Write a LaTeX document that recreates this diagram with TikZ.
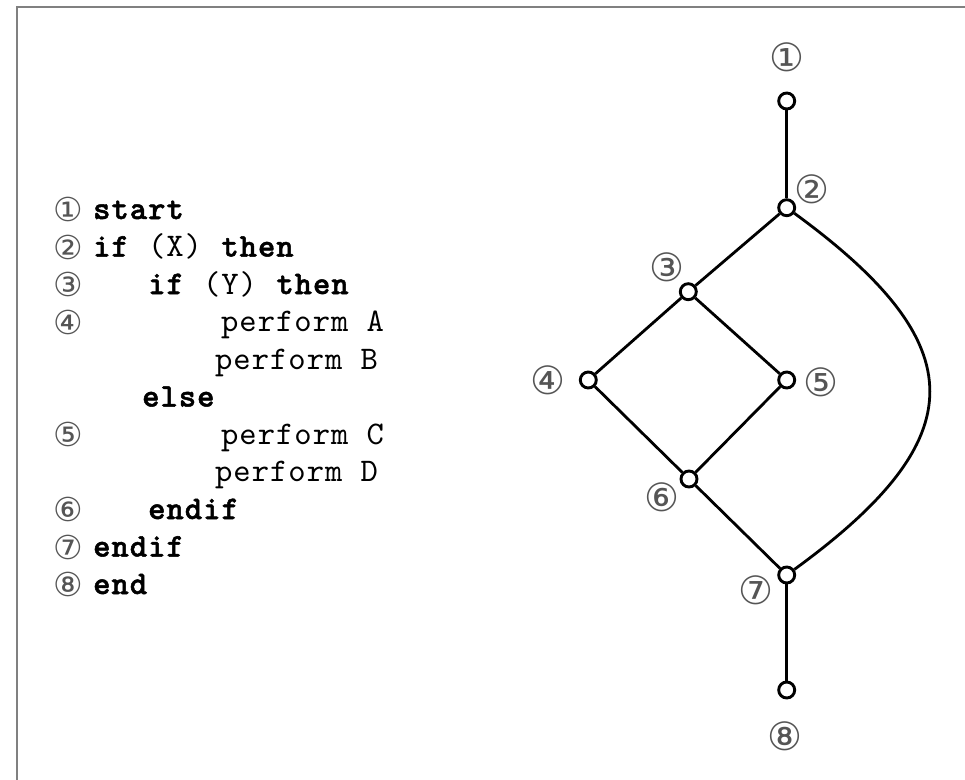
\documentclass[tikz,border=0pt]{standalone}
\usepackage{fontspec}
\newfontfamily\codefont{lmmono10-regular}[Extension=.otf, BoldFont=lmmonolt10-bold, BoldFeatures={FakeBold=1.5}, LetterSpace=3]
\newfontfamily\numfont{DejaVu Sans}
\definecolor{framecol}{RGB}{128,128,128}
\definecolor{numcol}{RGB}{85,85,85}
\tikzset{
  vert/.style={circle, draw=black, line width=2.9pt, minimum size=16pt, inner sep=0pt, fill=white},
  conn/.style={line width=2.8pt, draw=black},
  lbl/.style={font=\numfont\fontsize{39}{39}\selectfont, text=numcol, inner sep=0pt},
  cnum/.style={font=\numfont\fontsize{33}{33}\selectfont, text=numcol, inner sep=0pt},
  codeline/.style={font=\codefont\fontsize{33}{33}\selectfont, anchor=base west, inner sep=0pt}
}
\begin{document}
\begin{tikzpicture}[x=1pt,y=-1pt]
\useasboundingbox (0,0) rectangle (965,779);
% frame
\draw[framecol, line width=2.2pt] (17,782) -- (17,7) -- (968,7);
% code lines
\node[codeline] (c1) at (93,219) {\textbf{start}};
\node[codeline] (c2) at (93,256.5) {\textbf{if} (X) \textbf{then}};
\node[codeline] (c3) at (148,294) {\textbf{if} (Y) \textbf{then}};
\node[codeline] (c4) at (221,331.5) {perform A};
\node[codeline] (c5) at (215,369) {perform B};
\node[codeline] (c6) at (142,406.5) {\textbf{else}};
\node[codeline] (c7) at (221,444) {perform C};
\node[codeline] (c8) at (215,481.5) {perform D};
\node[codeline] (c9) at (148,519) {\textbf{endif}};
\node[codeline] (c10) at (93,556.5) {\textbf{endif}};
\node[codeline] (c11) at (93,594) {\textbf{end}};
% code numbers
\node[cnum] (k1) at (68,209.5) {①};
\node[cnum] (k2) at (68,247) {②};
\node[cnum] (k3) at (68,284.5) {③};
\node[cnum] (k4) at (68,322) {④};
\node[cnum] (k5) at (68,434.5) {⑤};
\node[cnum] (k6) at (68,509.5) {⑥};
\node[cnum] (k7) at (68,547) {⑦};
\node[cnum] (k8) at (68,584.5) {⑧};
% graph vertices
\node[vert] (n1) at (786.7,101) {};
\node[vert] (n2) at (786.7,207.7) {};
\node[vert] (n3) at (688.3,291.7) {};
\node[vert] (n4) at (588.3,380) {};
\node[vert] (n5) at (786.7,380) {};
\node[vert] (n6) at (689,479) {};
\node[vert] (n7) at (786.7,575) {};
\node[vert] (n8) at (786.7,690) {};
% edges
\draw[conn] (n1) -- (n2);
\draw[conn] (n2) -- (n3);
\draw[conn] (n3) -- (n4);
\draw[conn] (n3) -- (n5);
\draw[conn] (n4) -- (n6);
\draw[conn] (n5) -- (n6);
\draw[conn] (n6) -- (n7);
\draw[conn] (n7) -- (n8);
\draw[conn] (n2) .. controls (975,345) and (975,438) .. (n7);
% graph labels
\node[lbl] (l1) at (787,57) {①};
\node[lbl] (l2) at (812,189) {②};
\node[lbl] (l3) at (667,267) {③};
\node[lbl] (l4) at (548,380) {④};
\node[lbl] (l5) at (821,382) {⑤};
\node[lbl] (l6) at (662,497) {⑥};
\node[lbl] (l7) at (756,590) {⑦};
\node[lbl] (l8) at (785,736) {⑧};
\end{tikzpicture}
\end{document}
